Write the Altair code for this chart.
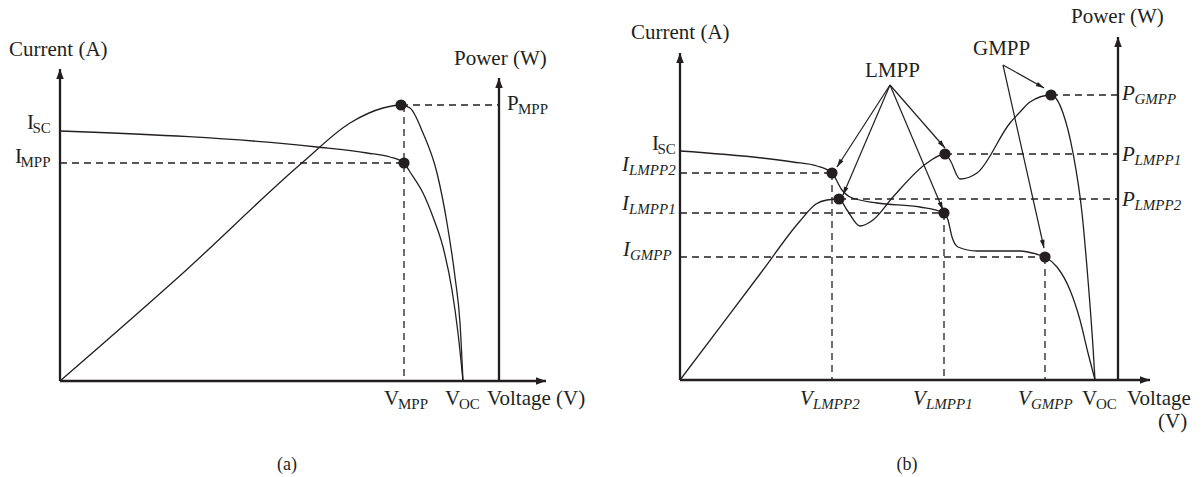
import math
import altair as alt
import pandas as pd

INK = "#231f20"
SERIF = "Liberation Serif"
BASE_SIZE = 21
SUB_SIZE = 15
CAPTION_SIZE = 18

# ---------------- (a) uniform irradiance: single MPP ----------------
A_VOC = 40.3
A_ISC = 25.0
A_MPP_IV = (34.4, 21.8)        # (V_MPP, I_MPP)
A_MPP_PV = (34.1, 27.6)        # (V_MPP, P_MPP)
A_V_AXIS_END = 48.6
A_I_AXIS_END = 31.2
A_P_AXIS_V = 43.9
A_P_AXIS_END = 30.3

a_iv_v = [0, 25.7, 30.7, 33.0, A_MPP_IV[0], 35.0, 36.3, 37.3, 38.3, 39.2, 39.8, A_VOC]
a_iv_i = [A_ISC, 23.4, 22.8, 22.4, A_MPP_IV[1], 20.9, 18.8, 16.4, 13.4, 9.1, 4.8, 0]
a_pv_v = [0, 12.3, 24.3, 29.0, 32.3, A_MPP_PV[0], 35.0, 36.3, 37.7, 38.7, 39.5, 40.0, A_VOC]
a_pv_p = [0, 10.8, 21.9, 25.8, 27.3, A_MPP_PV[1], 27.3, 24.8, 20.8, 15.8, 10.4, 5.8, 0]

# (base, subscript, V, I, italic)
a_labels = [
    ("Current (A)", "", -5.1, 32.5, False),
    ("Power (W)", "", 39.4, 31.6, False),
    ("I", "SC", -3.3, 25.2, False),
    ("I", "MPP", -4.5, 21.8, False),
    ("P", "MPP", 44.7, 27.1, False),
    ("V", "MPP", 32.4, -2.4, False),
    ("V", "OC", 38.5, -2.4, False),
    ("Voltage (V)", "", 42.7, -2.4, False),
]
a_caption = ("(a)", 22.7, -8.9)

# ---------------- (b) partial shading: LMPPs and GMPP ----------------
B_VOC = 41.5
B_ISC = 22.9
B_V_AXIS_END = 47.0
B_I_AXIS_END = 32.7
B_P_AXIS_V = 43.8
B_P_AXIS_END = 34.3

b_iv_mpp_v = [15.2, 26.4, 36.5]     # LMPP2, LMPP1, GMPP
b_iv_mpp_i = [20.7, 16.7, 12.3]
b_pv_mpp_v = [15.9, 26.5, 37.1]     # LMPP2, LMPP1, GMPP
b_pv_mpp_p = [18.1, 22.6, 28.5]

b_iv_v = [0, 11.3, 13.7, b_iv_mpp_v[0], 16.2, 17.0, 19.7, 24.0, b_iv_mpp_v[1], 26.8, 27.2,
          27.8, 29.7, 34.0, 35.6, b_iv_mpp_v[2], 37.7, 39.0, 40.0, 40.8, B_VOC]
b_iv_i = [B_ISC, 21.8, 21.4, b_iv_mpp_i[0], 19.0, 18.3, 17.7, 17.3, b_iv_mpp_i[1], 16.0, 14.3,
          13.3, 12.9, 12.9, 12.6, b_iv_mpp_i[2], 11.3, 9.0, 6.0, 2.7, 0]
b_pv_v = [0, 8.0, 12.0, 13.6, 14.7, b_pv_mpp_v[0], 16.7, 18.0, 19.3, 21.3, 24.7, b_pv_mpp_v[1],
          27.0, 28.0, 29.7, 33.0, 34.0, 35.0, b_pv_mpp_v[2], 38.3, 39.3, 40.2, 40.8, 41.3, B_VOC]
b_pv_p = [0, 10.6, 15.9, 17.6, 18.0, b_pv_mpp_p[0], 17.0, 15.4, 16.0, 18.3, 21.7, b_pv_mpp_p[1],
          22.0, 20.1, 20.7, 25.7, 26.8, 27.8, b_pv_mpp_p[2], 26.7, 22.7, 16.7, 10.0, 3.3, 0]

# annotation arrows: (source V, source I, tip V, tip I)
b_arrows = [
    (21.0, 29.5, 15.7, 21.3),
    (21.0, 29.5, 16.3, 18.5),
    (21.0, 29.5, 26.5, 23.2),
    (21.0, 29.5, 26.3, 17.0),
    (32.3, 31.5, 36.4, 29.2),
    (32.3, 31.5, 36.4, 13.2),
]

b_labels = [
    ("Current (A)", "", -4.9, 34.1, False),
    ("Power (W)", "", 39.1, 35.7, False),
    ("LMPP", "", 18.5, 30.3, False),
    ("GMPP", "", 29.3, 32.5, False),
    ("I", "SC", -2.8, 23.0, False),
    ("I", "LMPP2", -5.8, 20.9, True),
    ("I", "LMPP1", -5.8, 17.0, True),
    ("I", "GMPP", -5.7, 12.4, True),
    ("P", "GMPP", 44.2, 28.0, True),
    ("P", "LMPP1", 44.2, 21.9, True),
    ("P", "LMPP2", 44.2, 17.4, True),
    ("V", "LMPP2", 12.0, -2.5, True),
    ("V", "LMPP1", 23.3, -2.5, True),
    ("V", "GMPP", 33.8, -2.5, True),
    ("V", "OC", 40.2, -2.5, False),
    ("Voltage", "", 44.7, -2.5, False),
    ("(V)", "", 47.8, -4.8, False),
]
b_caption = ("(b)", 22.7, -9.0)

# ---------------- drawing helpers ----------------
UNIT_PX = 10.0  # both panels use 10 px per diagram unit on x and y
AXIS_HEAD = "M0,-1L0.75,1L-0.75,1Z"
NOTE_HEAD = "M0,-1L0.55,1L-0.55,1Z"
SUB_DX = {(False, "I"): 0.55, (False, "V"): 1.4, (False, "P"): 1.1,
          (True, "I"): 0.7, (True, "V"): 1.3, (True, "P"): 1.25}
SUB_DY = -0.4


def head(x0, y0, x1, y1, r_px):
    dx, dy = x1 - x0, y1 - y0
    n = math.hypot(dx, dy)
    ux, uy = dx / n, dy / n
    r = r_px / UNIT_PX
    ang = math.degrees(math.atan2(dx, dy)) % 360
    return {"x": x1 - ux * r, "y": y1 - uy * r, "angle": ang}


def label_rows(labels):
    rows = []
    for base, sub, v, i, italic in labels:
        rows.append({"x": v, "y": i, "text": base, "size": BASE_SIZE, "italic": italic})
        if sub:
            rows.append({"x": v + SUB_DX[(italic, base)], "y": i + SUB_DY, "text": sub,
                         "size": SUB_SIZE, "italic": italic})
    return pd.DataFrame(rows)


def panel(width, xdom, ydom, axes, dashes, curves, dots, arrows, labels, caption):
    X = alt.X("x:Q", scale=alt.Scale(domain=xdom, nice=False, zero=False), axis=None)
    Y = alt.Y("y:Q", scale=alt.Scale(domain=ydom, nice=False, zero=False), axis=None)

    axes_df = pd.DataFrame(axes, columns=["x", "y", "x2", "y2"])
    axis_heads = pd.DataFrame([head(*seg, 5) for seg in axes])
    dash_df = pd.DataFrame(dashes, columns=["x", "y", "x2", "y2"])
    dot_df = pd.DataFrame(dots, columns=["x", "y"])
    txt = label_rows(labels)

    layers = [
        alt.Chart(axes_df).mark_rule(color=INK, strokeWidth=2.3).encode(
            x=X, y=Y, x2="x2:Q", y2="y2:Q"),
        alt.Chart(axis_heads).mark_point(shape=AXIS_HEAD, filled=True, size=100,
                                         color=INK, opacity=1).encode(
            x=X, y=Y, angle=alt.Angle("angle:Q", scale=None)),
        alt.Chart(dash_df).mark_rule(color=INK, strokeWidth=1.3, strokeDash=[7, 5]).encode(
            x=X, y=Y, x2="x2:Q", y2="y2:Q"),
        alt.Chart(curves).mark_line(interpolate="monotone", color=INK, strokeWidth=1.3).encode(
            x=X, y=Y, detail="curve:N"),
    ]
    if arrows:
        arr_df = pd.DataFrame(arrows, columns=["x", "y", "x2", "y2"])
        arr_heads = pd.DataFrame([head(*a, 4) for a in arrows])
        layers += [
            alt.Chart(arr_df).mark_rule(color=INK, strokeWidth=1.2).encode(
                x=X, y=Y, x2="x2:Q", y2="y2:Q"),
            alt.Chart(arr_heads).mark_point(shape=NOTE_HEAD, filled=True, size=72,
                                            color=INK, opacity=1).encode(
                x=X, y=Y, angle=alt.Angle("angle:Q", scale=None)),
        ]
    layers.append(
        alt.Chart(dot_df).mark_point(shape="circle", filled=True, size=125,
                                     color=INK, opacity=1).encode(x=X, y=Y))
    for italic in (False, True):
        sub = txt[txt["italic"] == italic]
        if len(sub):
            layers.append(
                alt.Chart(sub).mark_text(align="left", baseline="alphabetic", font=SERIF,
                                         fontStyle="italic" if italic else "normal",
                                         color=INK).encode(
                    x=X, y=Y, text="text:N", size=alt.Size("size:Q", scale=None)))
    cap_df = pd.DataFrame([{"x": caption[1], "y": caption[2], "text": caption[0]}])
    layers.append(
        alt.Chart(cap_df).mark_text(align="center", baseline="alphabetic", font=SERIF,
                                    fontSize=CAPTION_SIZE, color=INK).encode(
            x=X, y=Y, text="text:N"))
    return alt.layer(*layers).properties(width=width, height=477)


def curve_df(pairs):
    rows = []
    for name, vs, ys in pairs:
        rows += [{"curve": name, "x": v, "y": y} for v, y in zip(vs, ys)]
    return pd.DataFrame(rows)


# ---------------- panel (a) ----------------
a_axes = [
    (0, 0, A_V_AXIS_END, 0),
    (0, 0, 0, A_I_AXIS_END),
    (A_P_AXIS_V, 0, A_P_AXIS_V, A_P_AXIS_END),
]
a_dashes = [
    (0, A_MPP_IV[1], A_MPP_IV[0], A_MPP_IV[1]),
    (A_MPP_PV[0], A_MPP_PV[1], A_P_AXIS_V, A_MPP_PV[1]),
    (A_MPP_IV[0], A_MPP_PV[1], A_MPP_IV[0], 0),
]
a_curves = curve_df([("I-V", a_iv_v, a_iv_i), ("P-V", a_pv_v, a_pv_p)])
a_dots = [A_MPP_IV, A_MPP_PV]
chart_a = panel(600, [-6.0, 54.0], [-9.6, 38.1], a_axes, a_dashes, a_curves, a_dots,
                [], a_labels, a_caption)

# ---------------- panel (b) ----------------
b_axes = [
    (0, 0, B_V_AXIS_END, 0),
    (0, 0, 0, B_I_AXIS_END),
    (B_P_AXIS_V, 0, B_P_AXIS_V, B_P_AXIS_END),
]
b_dashes = []
for v, i in zip(b_iv_mpp_v, b_iv_mpp_i):
    b_dashes.append((0, i, v, i))
    b_dashes.append((v, i, v, 0))
for v, p in zip(b_pv_mpp_v, b_pv_mpp_p):
    b_dashes.append((v, p, B_P_AXIS_V, p))
b_curves = curve_df([("I-V", b_iv_v, b_iv_i), ("P-V", b_pv_v, b_pv_p)])
b_dots = list(zip(b_iv_mpp_v, b_iv_mpp_i)) + list(zip(b_pv_mpp_v, b_pv_mpp_p))
chart_b = panel(602, [-8.0, 52.2], [-9.7, 38.0], b_axes, b_dashes, b_curves, b_dots,
                b_arrows, b_labels, b_caption)

chart = (
    alt.hconcat(chart_a, chart_b, spacing=0)
    .resolve_scale(x="independent", y="independent")
    .properties(padding=0, background="white")
    .configure_view(stroke=None)
)

chart.save("out.html", embed_options={"renderer": "svg", "actions": False})
